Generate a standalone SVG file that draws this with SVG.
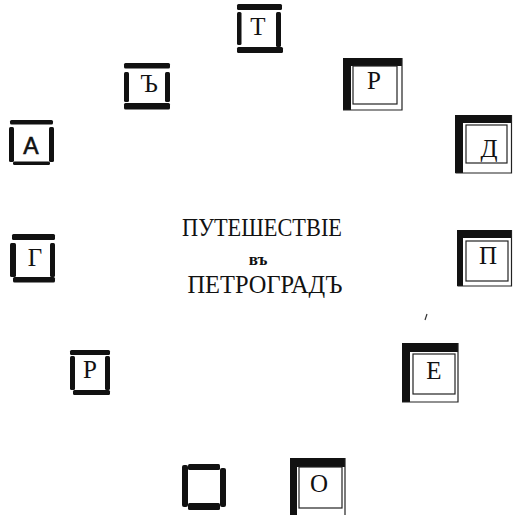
<svg xmlns="http://www.w3.org/2000/svg" width="513" height="515" viewBox="0 0 513 515">
<style>
.bar{fill:#111}
.thick{fill:#111}
.thin{fill:none;stroke:#222;stroke-width:1.2}
.lt{font-family:"Liberation Serif","Times New Roman",serif;font-size:25px;fill:#111;text-anchor:middle}
.ls{font-family:"Liberation Sans",Arial,sans-serif;font-size:23px;fill:#111;stroke:#111;stroke-width:0.6;text-anchor:middle}
.title{font-family:"Liberation Serif","Times New Roman",serif;font-size:25px;fill:#111;text-anchor:middle}
.small{font-family:"Liberation Serif","Times New Roman",serif;font-size:17px;font-weight:bold;fill:#111;text-anchor:middle}
</style>
<rect width="513" height="515" fill="#fff"/>
<g id="box-T">
<rect class="bar" x="237" y="4" width="45" height="6" rx="1.5"/>
<rect class="bar" x="237" y="47" width="46" height="6" rx="1.5"/>
<rect class="bar" x="237" y="12" width="4.5" height="33" rx="1.5"/>
<rect class="bar" x="276" y="12" width="5" height="35" rx="1.5"/>
<text class="lt" x="258" y="35">Т</text>
</g>
<g id="box-Yer">
<rect class="bar" x="124" y="63" width="46" height="5.5" rx="1.5"/>
<rect class="bar" x="124" y="103" width="46" height="6.5" rx="1.5"/>
<rect class="bar" x="124" y="72" width="5" height="30" rx="1.5"/>
<rect class="bar" x="165" y="72" width="5" height="30" rx="1.5"/>
<text class="lt" x="149" y="92">Ъ</text>
</g>
<g id="box-A">
<rect class="bar" x="10" y="120" width="43" height="4.5" rx="1.5"/>
<rect class="bar" x="13" y="161.5" width="37" height="3.5" rx="1.5"/>
<rect class="bar" x="9" y="127" width="5" height="35" rx="1.5"/>
<rect class="bar" x="49" y="127" width="5" height="35" rx="1.5"/>
<text class="ls" x="31" y="154">А</text>
</g>
<g id="box-G">
<rect class="bar" x="12" y="234" width="43" height="6" rx="1.5"/>
<rect class="bar" x="13" y="277" width="42" height="5.5" rx="1.5"/>
<rect class="bar" x="10" y="243" width="6" height="34" rx="1.5"/>
<rect class="bar" x="50" y="243" width="5" height="34" rx="1.5"/>
<text class="lt" x="35" y="266">Г</text>
</g>
<g id="box-R-left">
<rect class="bar" x="70" y="350" width="40" height="5" rx="1.5"/>
<rect class="bar" x="73" y="390" width="37" height="5" rx="1.5"/>
<rect class="bar" x="70" y="356" width="5" height="34" rx="1.5"/>
<rect class="bar" x="105" y="356" width="5" height="34" rx="1.5"/>
<text class="lt" x="90" y="378">Р</text>
</g>
<g id="box-empty">
<rect class="bar" x="188" y="464" width="32" height="6" rx="1.5"/>
<rect class="bar" x="188" y="503" width="32" height="7" rx="1.5"/>
<rect class="bar" x="182" y="465" width="6" height="42" rx="2"/>
<rect class="bar" x="220" y="468" width="6" height="39" rx="2"/>
</g>
<g id="box-R-right">
<path class="thick" d="M343 58h59v8h-51v44h-8z"/>
<path class="thin" d="M402 58v52h-59"/>
<rect class="thin" x="353" y="66" width="44" height="38"/>
<text class="lt" x="374" y="89">Р</text>
</g>
<g id="box-D">
<path class="thick" d="M455 115h57v8h-49v50h-8z"/>
<path class="thin" d="M511.5 115v58h-56"/>
<rect class="thin" x="466" y="125" width="41" height="38"/>
<text class="lt" x="489" y="157">Д</text>
</g>
<g id="box-P">
<path class="thick" d="M457 230h55v8h-49v48h-6z"/>
<path class="thin" d="M511.5 230v56h-54"/>
<rect class="thin" x="466" y="241" width="42" height="40"/>
<text class="lt" x="488" y="264">П</text>
</g>
<g id="box-E">
<path class="thick" d="M402 343h56v9h-48v50h-8z"/>
<path class="thin" d="M458 343v59h-56"/>
<rect class="thin" x="413" y="354" width="42" height="40"/>
<text class="lt" x="434" y="379">Е</text>
</g>
<g id="box-O">
<path class="thick" d="M290 458h55v9h-48v48h-7z"/>
<path class="thin" d="M345 458v57"/>
<rect class="thin" x="299" y="467" width="43" height="41"/>
<text class="lt" x="319" y="492">О</text>
</g>
<g id="connectors"></g>
<g id="title">
<text class="title" x="262" y="236" textLength="160" lengthAdjust="spacingAndGlyphs">ПУТЕШЕСТВІЕ</text>
<text class="small" x="258" y="265">въ</text>
<text class="title" x="265" y="293" textLength="155" lengthAdjust="spacingAndGlyphs">ПЕТРОГРАДЪ</text>
</g>
<path d="M427 314l-2 6" stroke="#333" stroke-width="1.2"/>
</svg>
